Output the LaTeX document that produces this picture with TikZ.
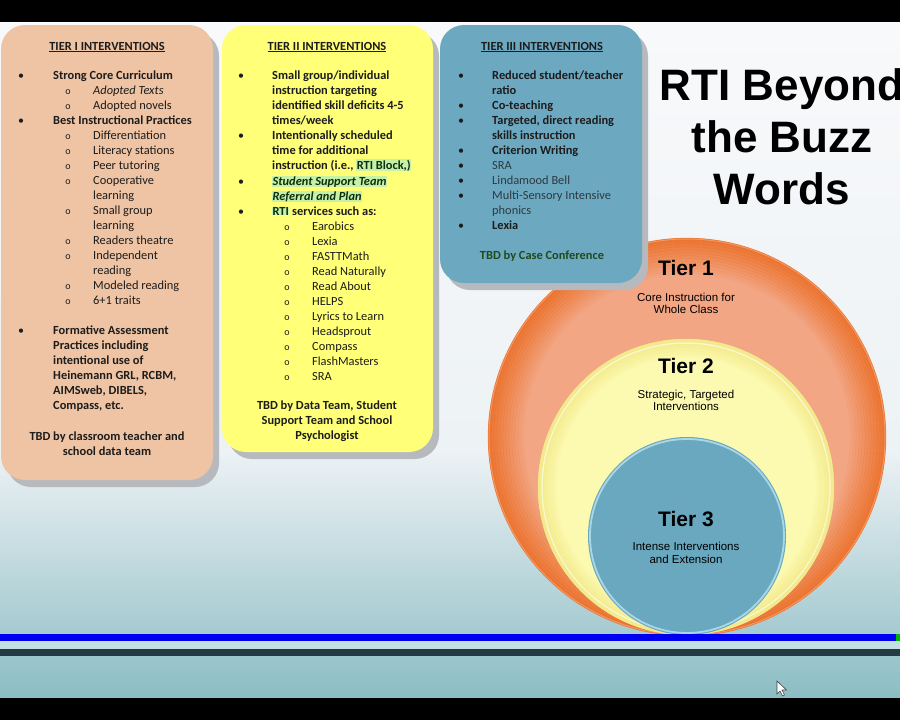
\documentclass[tikz,border=0pt]{standalone}
\usepackage{fontspec}
\setmainfont{Carlito}
\newfontfamily\arialfont{Liberation Sans}
\usetikzlibrary{shadows}

\definecolor{ink}{HTML}{1C1C1C}
\definecolor{inkgrey}{HTML}{2C3A40}
\definecolor{peach}{HTML}{EFC4A4}
\definecolor{lemon}{HTML}{FFFF78}
\definecolor{steel}{HTML}{6DA8C1}
\definecolor{shadowgrey}{HTML}{B6BABE}
\definecolor{glowc}{HTML}{C6F2A8}
\definecolor{glowink}{HTML}{0E2E0E}
\definecolor{casegreen}{HTML}{1E4A1E}
\definecolor{bgtop}{HTML}{F8F9FB}
\definecolor{bgmid}{HTML}{EDF2F5}
\definecolor{bgbot}{HTML}{8CBDC4}
\definecolor{strip}{HTML}{C4DFE3}
\definecolor{barblue}{HTML}{0000F0}
\definecolor{bardark}{HTML}{263A44}
\definecolor{oneIn}{HTML}{F3A684}
\definecolor{oneOut}{HTML}{EB7029}
\definecolor{twoIn}{HTML}{FCFAB0}
\definecolor{twoOut}{HTML}{F1E784}
\definecolor{threeIn}{HTML}{69A8BF}
\definecolor{threeRim}{HTML}{A9D7E5}

% green highlight behind text
\newcommand{\glowtxt}[1]{{\setlength{\fboxsep}{0.4pt}\colorbox{glowc}{\color{glowink}#1}}}

\tikzset{
  box/.style={rounded corners=24pt,drop shadow={shadow xshift=6pt,shadow yshift=-7pt,fill=shadowgrey,opacity=1}},
  ln/.style={anchor=base west,inner sep=0pt,text=ink,font=\fontsize{12.4}{14}\selectfont},
  lnb/.style={ln,font=\bfseries\fontsize{12.4}{14}\selectfont},
  hd/.style={anchor=base,inner sep=0pt,text=ink,font=\bfseries\fontsize{12.4}{14}\selectfont},
  dot/.style={anchor=base,inner sep=0pt,text=ink,font=\fontsize{12}{14}\selectfont},
  ring/.style={anchor=base,inner sep=0pt,text=ink,font=\fontsize{10}{12}\selectfont},
  title/.style={anchor=base,inner sep=0pt,font=\arialfont\bfseries\fontsize{44}{50}\selectfont},
  tierhd/.style={anchor=base,inner sep=0pt,font=\arialfont\bfseries\fontsize{21}{24}\selectfont},
  tiersub/.style={anchor=base,inner sep=0pt,font=\arialfont\fontsize{11.5}{13}\selectfont}
}

\begin{document}
\begin{tikzpicture}[x=1pt,y=-1pt]
\useasboundingbox (0,0) rectangle (900,720);
\clip (0,0) rectangle (900,720);

% screen and slide background
\fill[black] (0,0) rectangle (900,720);
\shade[top color=bgtop,bottom color=bgmid] (0,22) rectangle (900,451);
\shade[top color=bgmid,bottom color=bgbot] (0,450) rectangle (900,697);

% nested tier circles, rims built from rings
\fill[oneIn] (687,437) circle[radius=199pt];
\foreach \k in {0,...,11}
  \draw[oneOut,opacity={0.9*(1-\k/12)},line width=3.3pt] (687,437) circle[radius={(197.5-3*\k)*1pt}];
\draw[white,opacity=.25,line width=1pt] (687,437) circle[radius=198pt];
\fill[twoIn] (686,487) circle[radius=148pt];
\foreach \k in {0,...,5}
  \draw[twoOut,opacity={0.8*(1-\k/6)},line width=3.3pt] (686,487) circle[radius={(146.5-3*\k)*1pt}];
\draw[white,opacity=.5,line width=1.5pt] (686,487) circle[radius=144pt];
\fill[threeIn] (687,536) circle[radius=99pt];
\draw[threeRim,line width=1.8pt] (687,536) circle[radius=97pt];

\node[tierhd] (t1) at (686,275) {Tier 1};
\node[tierhd] (t2) at (686,373) {Tier 2};
\node[tierhd] (t3) at (686,526) {Tier 3};
\foreach \yy/\txt [count=\i] in {301/Core Instruction for,313/Whole Class,398/{Strategic, Targeted},410/Interventions,550/Intense Interventions,563/and Extension}
  \node[tiersub] (ts\i) at (686,\yy) {\txt};

% intervention boxes
\path[box,fill=peach] (1,25) rectangle (213,480);
\path[box,fill=lemon] (222,25) rectangle (433,452);
\path[box,fill=steel] (440,25) rectangle (642,283);

% tier I
\node[hd] (h1) at (107,50) {\underline{TIER I INTERVENTIONS}};
\foreach \yy [count=\i] in {79,124,334} \node[dot] (ab\i) at (21,\yy) {•};
\foreach \yy [count=\i] in {94,109,139,154,169,184,214,244,259,289,304} \node[ring] (ao\i) at (68,\yy) {o};
\foreach \yy/\txt [count=\i] in {79/Strong Core Curriculum,124/Best Instructional Practices,334/Formative Assessment,349/Practices including,364/intentional use of,379/{Heinemann GRL, RCBM,},394/{AIMSweb, DIBELS,},409/{Compass, etc.}}
  \node[lnb] (am\i) at (53,\yy) {\txt};
\foreach \yy/\txt [count=\i] in {94/\textit{Adopted Texts},109/Adopted novels,139/Differentiation,154/Literacy stations,169/Peer tutoring,184/Cooperative,199/learning,214/Small group,229/learning,244/Readers theatre,259/Independent,274/reading,289/Modeled reading,304/6+1 traits}
  \node[ln] (as\i) at (93,\yy) {\txt};
\node[hd] (tbd1a) at (107,440) {TBD by classroom teacher and};
\node[hd] (tbd1b) at (107,455) {school data team};

% tier II
\node[hd] (h2) at (327,50) {\underline{TIER II INTERVENTIONS}};
\foreach \yy [count=\i] in {79,139,185,215} \node[dot] (bb\i) at (241,\yy) {•};
\foreach \yy/\txt [count=\i] in {79/{Small group/individual},94/instruction targeting,109/identified skill deficits 4-5,124/{times/week},139/Intentionally scheduled,154/time for additional,169/{instruction (i.e., \glowtxt{RTI Block,)}},185/\glowtxt{\itshape Student Support Team},200/\glowtxt{\itshape Referral and Plan},215/\glowtxt{RTI} services such as:}
  \node[lnb] (bm\i) at (272,\yy) {\txt};
\foreach \yy/\txt [count=\i] in {230/Earobics,245/Lexia,260/FASTTMath,275/Read Naturally,290/Read About,305/HELPS,320/Lyrics to Learn,335/Headsprout,350/Compass,365/FlashMasters,380/SRA} {
  \node[ring] (bo\i) at (287,\yy) {o};
  \node[ln] (bs\i) at (312,\yy) {\txt};
}
\node[hd] (tbd2a) at (327,409) {TBD by Data Team, Student};
\node[hd] (tbd2b) at (327,424) {Support Team and School};
\node[hd] (tbd2c) at (327,439) {Psychologist};

% tier III
\node[hd] (h3) at (542,50) {\underline{TIER III INTERVENTIONS}};
\foreach \yy [count=\i] in {79,109,124,154,169,184,199,229} \node[dot] (cb\i) at (461,\yy) {•};
\foreach \yy/\txt [count=\i] in {79/{Reduced student/teacher},94/ratio,109/Co-teaching,124/{Targeted, direct reading},139/skills instruction,154/Criterion Writing,229/Lexia}
  \node[lnb] (cm\i) at (492,\yy) {\txt};
\foreach \yy/\txt [count=\i] in {169/SRA,184/Lindamood Bell,199/Multi-Sensory Intensive,214/phonics}
  \node[ln,text=inkgrey] (cs\i) at (492,\yy) {\txt};
\node[hd,text=casegreen] (tbd3) at (542,259) {TBD by Case Conference};

% title
\foreach \yy/\txt [count=\i] in {100/RTI Beyond,152/the Buzz,204/Words}
  \node[title] (ttl\i) at (782,\yy) {\txt};

% bottom bars and pointer
\fill[barblue] (0,634) rectangle (900,641);
\fill[green!70!black] (896,634) rectangle (900,641);
\fill[strip] (0,641) rectangle (900,649);
\fill[bardark] (0,649) rectangle (900,656);
\filldraw[fill=white,draw=black!75,line width=.6pt] (777,681) -- ++(0,13) -- ++(3,-3) -- ++(2.5,5) -- ++(2,-1) -- ++(-2.5,-5) -- ++(4.5,0) -- cycle;
\end{tikzpicture}
\end{document}
